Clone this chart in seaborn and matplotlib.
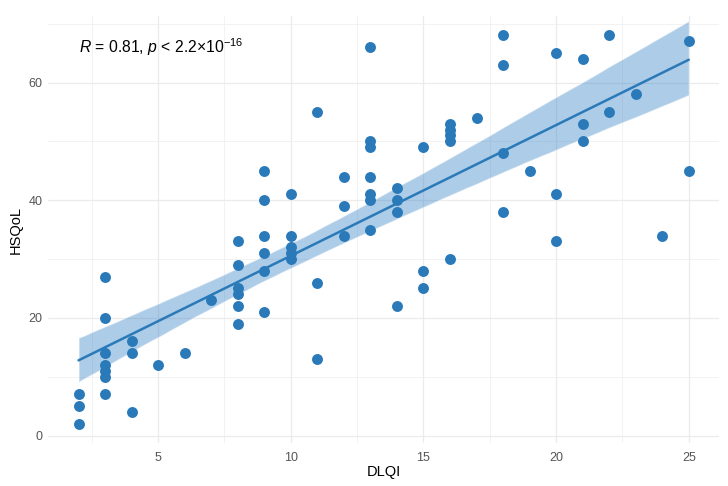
import numpy as np
import pandas as pd
import matplotlib
matplotlib.use('Agg')
import matplotlib.pyplot as plt
import seaborn as sns
from matplotlib.ticker import MultipleLocator

# DLQI column values and the HSQoL scores seen at each one
dlqi_levels = [2, 3, 4, 5, 6, 7, 8, 9, 10, 11, 12, 13, 14, 15, 16, 17, 18, 19, 20, 21, 22, 23, 24, 25]
hsqol_by_dlqi = [
    [7, 5, 2],
    [27, 20, 14, 12, 11, 10, 7],
    [16, 14, 4],
    [12],
    [14],
    [23],
    [33, 29, 25, 24, 22, 19],
    [45, 40, 34, 31, 28, 21],
    [41, 34, 32, 31, 30],
    [55, 26, 13],
    [44, 39, 34],
    [66, 50, 49, 44, 41, 40, 35],
    [42, 40, 38, 22],
    [49, 28, 25],
    [53, 52, 51, 50, 30],
    [54],
    [68, 63, 48, 38],
    [45],
    [65, 41, 33],
    [64, 53, 50],
    [68, 55],
    [58],
    [34],
    [67, 45],
]
x_ticks = [5, 10, 15, 20, 25]
y_ticks = [0, 20, 40, 60]
cor_label = r'$\it{R}$ = 0.81, $\it{p}$ < 2.2$\times$10$^{-16}$'

dlqi = [x for x, ys in zip(dlqi_levels, hsqol_by_dlqi) for _ in ys]
hsqol = [y for ys in hsqol_by_dlqi for y in ys]
df = pd.DataFrame({'DLQI': dlqi, 'HSQoL': hsqol})

sns.set_style('white')
plt.rcParams['font.family'] = ['Liberation Sans', 'DejaVu Sans']
plt.rcParams['mathtext.fontset'] = 'custom'
plt.rcParams['mathtext.rm'] = 'Liberation Sans'
plt.rcParams['mathtext.it'] = 'Liberation Sans:italic'

point_col = '#2a7ab9'

fig = plt.figure(figsize=(7.28, 4.86), dpi=100)
ax = fig.add_axes([0.066, 0.088, 0.922, 0.879])

sns.regplot(data=df, x='DLQI', y='HSQoL', ax=ax, ci=95, n_boot=2000, seed=3,
            scatter_kws={'s': 62, 'color': point_col, 'linewidths': 0, 'alpha': 1, 'zorder': 3},
            line_kws={'color': point_col, 'lw': 1.8, 'zorder': 4})
# lighten band
for coll in ax.collections:
    if coll.__class__.__name__ != 'PathCollection':
        coll.set_facecolor('#3d86c6')
        coll.set_alpha(0.42)
        coll.set_zorder(2)

ax.set_xlim(0.85, 26.15)
ax.set_ylim(-1.3, 71.3)
ax.set_xticks(x_ticks)
ax.set_yticks(y_ticks)
ax.xaxis.set_minor_locator(MultipleLocator(2.5))
ax.yaxis.set_minor_locator(MultipleLocator(10))
ax.grid(which='major', color='#ebebeb', lw=0.9)
ax.grid(which='minor', color='#f0f0f0', lw=0.6)
ax.set_axisbelow(True)
for s in ax.spines.values():
    s.set_visible(False)
ax.tick_params(which='both', length=0, labelsize=9, colors='#555555')
ax.tick_params(axis='x', pad=6)
ax.tick_params(axis='y', pad=4)
ax.set_xlabel('DLQI', fontsize=10.5, color='black', labelpad=1)
ax.set_ylabel('HSQoL', fontsize=10.5, color='black', labelpad=4)

ax.text(2, 66, cor_label, fontsize=11.3, ha='left', va='center', color='black')

fig.savefig('out.png', dpi=100, facecolor='white')
